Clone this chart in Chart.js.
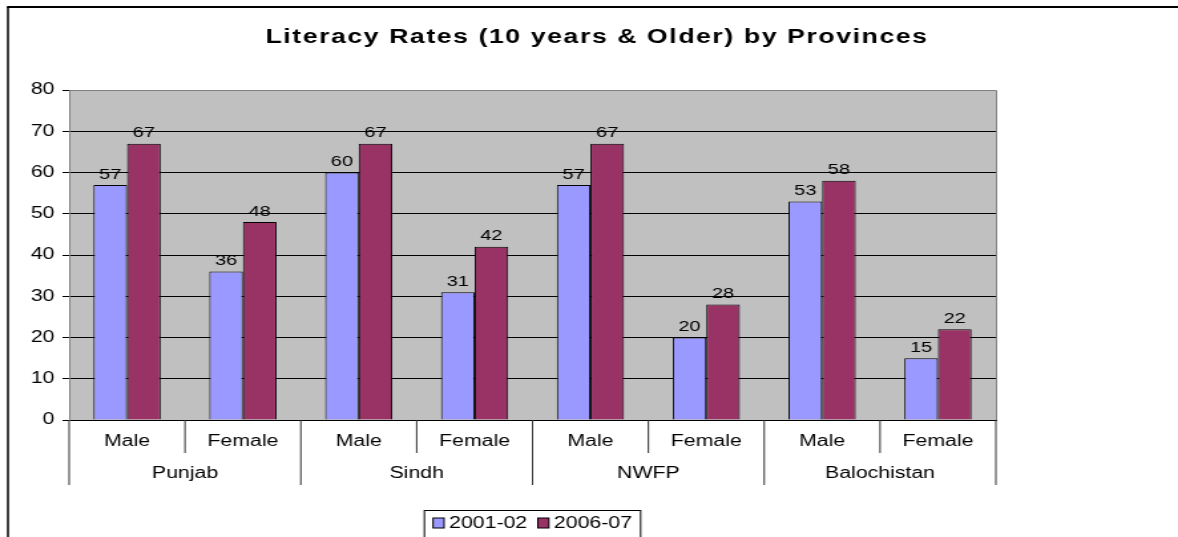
<!DOCTYPE html>
<html>
<head>
<meta charset="utf-8">
<script src="https://cdn.jsdelivr.net/npm/chart.js@4/dist/chart.umd.min.js"></script>
<style>
    html, body { margin: 0; padding: 0; background: #fff; overflow: hidden; }
    /* the reference is a horizontally stretched picture, so draw narrow and stretch */
    #wrap {
        position: absolute; left: 0; top: 0;
        width: 886px; height: 537px;
        transform: scaleX(1.3296); transform-origin: 0 0;
    }
</style>
</head>
<body>
<div id="wrap"><canvas id="literacyChart"></canvas></div>
<script>
// Chart data
const titleText = 'Literacy Rates (10 years & Older) by Provinces';
const genders = ['Male', 'Female', 'Male', 'Female', 'Male', 'Female', 'Male', 'Female'];
const provinces = ['Punjab', 'Sindh', 'NWFP', 'Balochistan'];
const seriesNames = ['2001-02', '2006-07'];
const rates2001 = [57, 36, 60, 31, 57, 20, 53, 15];
const rates2006 = [67, 48, 67, 42, 67, 28, 58, 22];
const yTicks = { min: 0, max: 80, step: 10 };

const seriesColors = ['#9999FF', '#993366'];
const fontFamily = "'Liberation Sans', Arial, sans-serif";

// Grey plot area, frame, title, value labels, category separators, legend
const excelLook = {
    id: 'excelLook',
    beforeDraw(chart) {
        const { ctx, chartArea: a } = chart;
        ctx.save();
        ctx.fillStyle = '#C0C0C0';
        ctx.fillRect(a.left, a.top, a.right - a.left, a.bottom - a.top);
        ctx.restore();
    },
    afterDatasetsDraw(chart) {
        const { ctx, chartArea: a } = chart;
        ctx.save();
        // plot border (top and right, grey)
        ctx.strokeStyle = '#808080';
        ctx.lineWidth = 1;
        ctx.beginPath();
        ctx.moveTo(a.left, a.top + 0.5);
        ctx.lineTo(a.right + 0.5, a.top + 0.5);
        ctx.lineTo(a.right + 0.5, a.bottom);
        ctx.stroke();

        // value labels above bars
        ctx.fillStyle = '#000';
        ctx.font = '15px ' + fontFamily;
        ctx.textAlign = 'center';
        ctx.textBaseline = 'bottom';
        chart.data.datasets.forEach((ds, di) => {
            chart.getDatasetMeta(di).data.forEach((bar, i) => {
                ctx.fillText(String(ds.data[i]), bar.x, bar.y - 3);
            });
        });
        ctx.restore();
    },
    afterDraw(chart) {
        const { ctx, chartArea: a, scales } = chart;
        const x = scales.x;
        ctx.save();

        // outer frame
        ctx.strokeStyle = '#000';
        ctx.lineWidth = 1.5;
        ctx.beginPath();
        ctx.moveTo(6, 537);
        ctx.lineTo(6, 7);
        ctx.stroke();
        ctx.lineWidth = 2;
        ctx.beginPath();
        ctx.moveTo(5.25, 7);
        ctx.lineTo(chart.width, 7);
        ctx.stroke();

        // title
        ctx.fillStyle = '#000';
        ctx.font = 'bold 20px ' + fontFamily;
        ctx.letterSpacing = '1.2px';
        ctx.textAlign = 'center';
        ctx.textBaseline = 'middle';
        ctx.fillText(titleText, 449, 37);
        ctx.letterSpacing = '0px';

        // separators between categories and provinces
        const half = (x.getPixelForValue(1) - x.getPixelForValue(0)) / 2;
        ctx.strokeStyle = '#303030';
        ctx.lineWidth = 1;
        for (let i = 0; i <= genders.length; i++) {
            const px = i < genders.length ? x.getPixelForValue(i) - half : x.getPixelForValue(i - 1) + half;
            const bottom = (i % 2 === 0) ? scales.x2.bottom : x.bottom;
            ctx.beginPath();
            ctx.moveTo(px, a.bottom);
            ctx.lineTo(px, bottom);
            ctx.stroke();
        }

        // legend
        ctx.font = '16px ' + fontFamily;
        const boxW = 8.3, boxH = 10, gap = 3.8, itemGap = 8, pad = 6.5;
        const widths = seriesNames.map(n => boxW + gap + ctx.measureText(n).width);
        const total = pad * 2 + widths.reduce((s, w) => s + w, 0) + itemGap * (widths.length - 1);
        const left = (a.left + a.right) / 2 - total / 2;
        const top = 510, midY = 523;
        ctx.strokeStyle = '#000';
        ctx.lineWidth = 1;
        ctx.strokeRect(left, top + 0.5, total, 40);
        let cx = left + pad;
        seriesNames.forEach((n, i) => {
            ctx.fillStyle = chart.data.datasets[i].backgroundColor;
            ctx.fillRect(cx, midY - boxH / 2, boxW, boxH);
            ctx.strokeRect(cx, midY - boxH / 2, boxW, boxH);
            ctx.fillStyle = '#000';
            ctx.textAlign = 'left';
            ctx.textBaseline = 'middle';
            ctx.fillText(n, cx + boxW + gap, midY + 1);
            cx += widths[i] + itemGap;
        });
        ctx.restore();
    }
};

document.addEventListener('DOMContentLoaded', function() {
    new Chart(document.getElementById('literacyChart'), {
        type: 'bar',
        data: {
            labels: genders,
            datasets: [
                {
                    label: seriesNames[0],
                    data: rates2001,
                    backgroundColor: seriesColors[0],
                    borderColor: '#000',
                    borderWidth: 1
                },
                {
                    label: seriesNames[1],
                    data: rates2006,
                    backgroundColor: seriesColors[1],
                    borderColor: '#000',
                    borderWidth: 1
                }
            ]
        },
        options: {
            responsive: true,
            maintainAspectRatio: false,
            animation: false,
            layout: {
                padding: { top: 90, right: 137, bottom: 52, left: 0 }
            },
            datasets: {
                bar: { categoryPercentage: 0.58, barPercentage: 1 }
            },
            plugins: {
                legend: { display: false },
                title: { display: false },
                tooltip: { enabled: false }
            },
            scales: {
                x: {
                    weight: 0,
                    grid: { display: false, drawTicks: false },
                    border: { display: true, color: '#000', width: 1 },
                    ticks: {
                        color: '#000',
                        font: { family: fontFamily, size: 16 },
                        padding: 12,
                        autoSkip: false,
                        maxRotation: 0
                    },
                    afterFit(scale) { scale.height = 33; }
                },
                x2: {
                    type: 'category',
                    labels: provinces,
                    position: 'bottom',
                    weight: 1,
                    offset: true,
                    grid: { display: false, drawTicks: false },
                    border: { display: false },
                    ticks: {
                        color: '#000',
                        font: { family: fontFamily, size: 16 },
                        padding: 11,
                        autoSkip: false,
                        maxRotation: 0
                    },
                    afterFit(scale) { scale.height = 32; }
                },
                y: {
                    min: yTicks.min,
                    max: yTicks.max,
                    ticks: {
                        stepSize: yTicks.step,
                        color: '#000',
                        font: { family: fontFamily, size: 16 },
                        padding: 6
                    },
                    grid: {
                        color: ctx => (ctx.tick && ctx.tick.value === yTicks.max) ? '#808080' : '#000',
                        tickColor: '#000',
                        tickLength: 5,
                        lineWidth: 1
                    },
                    border: { color: '#808080', width: 1 },
                    afterFit(scale) { scale.width = 52; }
                }
            }
        },
        plugins: [excelLook]
    });
});
</script>
</body>
</html>
